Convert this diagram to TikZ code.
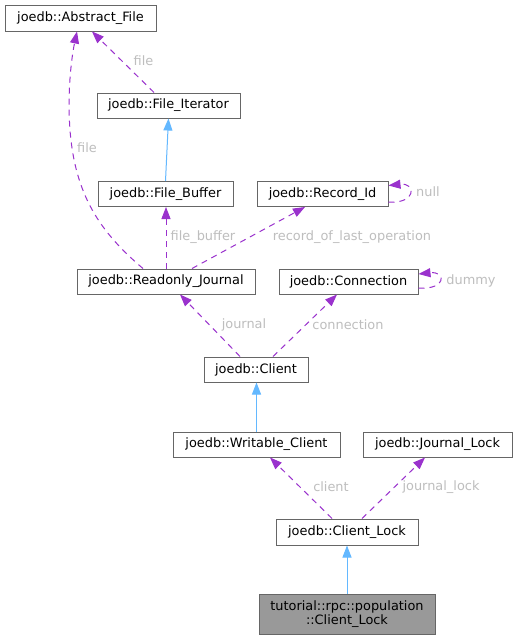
\documentclass[tikz,border=0pt]{standalone}
\usepackage{fontspec}
\setmainfont{DejaVu Sans}
\usetikzlibrary{arrows.meta}
\definecolor{edgeP}{HTML}{9A32CD}
\definecolor{edgeB}{HTML}{63B8FF}
\definecolor{nodeB}{HTML}{666666}
\definecolor{lblG}{HTML}{BEBEBE}
\definecolor{fillG}{HTML}{999999}
\begin{document}
\begin{tikzpicture}[x=1pt,y=-1pt,
  box/.style={draw=nodeB, line width=1pt, fill=white, minimum height=25pt, inner sep=0pt, font=\fontsize{12.9}{14}\selectfont},
  dep/.style={draw=edgeP, line width=1pt, dash pattern=on 6pt off 5pt, -{Triangle[length=12pt,width=9pt]}},
  inh/.style={draw=edgeB, line width=1pt, -{Triangle[length=12pt,width=9pt]}},
  lbl/.style={text=lblG, font=\fontsize{12.9}{14}\selectfont, inner sep=0pt}]
\useasboundingbox[fill=white] (0,0) rectangle (517,640);
% nodes
\node[box, minimum width=151pt, minimum height=26pt] (af) at (80.5,18) {joedb::Abstract\_File};
\node[box, minimum width=143pt] (fi) at (168.5,105.5) {joedb::File\_Iterator};
\node[box, minimum width=135pt] (fb) at (165.5,194) {joedb::File\_Buffer};
\node[box, minimum width=131pt] (rid) at (322.5,194) {joedb::Record\_Id};
\node[box, minimum width=178pt] (rj) at (166,281.5) {joedb::Readonly\_Journal};
\node[box, minimum width=139pt] (conn) at (348.5,281.5) {joedb::Connection};
\node[box, minimum width=104pt] (client) at (256,369.5) {joedb::Client};
\node[box, minimum width=167pt] (wc) at (256.5,444.5) {joedb::Writable\_Client};
\node[box, minimum width=149pt] (jl) at (437.5,444.5) {joedb::Journal\_Lock};
\node[box, minimum width=142pt, minimum height=26pt] (cl) at (347,532) {joedb::Client\_Lock};
\node[box, fill=fillG, minimum width=176pt, minimum height=40pt, align=center] (tut) at (347,614) {tutorial::rpc::population\\::Client\_Lock};
% edges
\draw[dep] ([xshift=-14.5pt]fi.north) -- ([xshift=11.5pt]af.south);
\node[lbl] (l1) at (143.5,61) {file};
\draw[dep] ([xshift=-23pt]rj.north) .. controls (100,232) and (75,195) .. (70,130) .. controls (67,90) and (72,55) .. ([xshift=-3.5pt]af.south);
\node[lbl] (l2) at (87,148) {file};
\draw[inh] (fb.north) -- (fi.south);
\draw[dep] (rj.north) -- ([xshift=0.5pt]fb.south);
\node[lbl] (l3) at (203,237) {file\_buffer};
\draw[dep] ([xshift=26pt]rj.north) -- ([xshift=-17.5pt]rid.south);
\node[lbl] (l4) at (352,237) {record\_of\_last\_operation};
\draw[dep] ([yshift=-8pt]rid.east) .. controls +(28,2) and +(28,-3) .. ([yshift=8.5pt]rid.east);
\node[lbl] (l5) at (428,192) {null};
\draw[dep] ([xshift=-16pt]client.north) -- ([xshift=14pt]rj.south);
\node[lbl] (l6) at (244,325) {journal};
\draw[dep] ([xshift=17pt]client.north) -- ([xshift=-11.5pt]conn.south);
\node[lbl] (l7) at (348,325) {connection};
\draw[dep] ([yshift=-6.5pt]conn.east) .. controls +(28,2) and +(28,-3) .. ([yshift=7.5pt]conn.east);
\node[lbl] (l8) at (471,281) {dummy};
\draw[inh] (wc.north) -- ([xshift=0.5pt]client.south);
\draw[dep] ([xshift=-15pt]cl.north) -- ([xshift=13.5pt]wc.south);
\node[lbl] (l9) at (331,487) {client};
\draw[dep] ([xshift=15pt]cl.north) -- ([xshift=-12.5pt]jl.south);
\node[lbl] (l10) at (441,487) {journal\_lock};
\draw[inh] (tut.north) -- (cl.south);
\end{tikzpicture}
\end{document}
